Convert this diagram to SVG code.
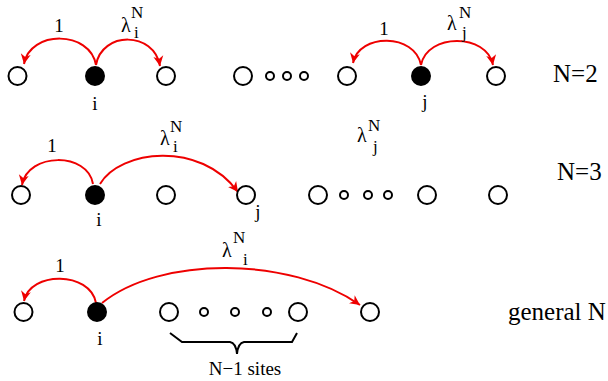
<svg xmlns="http://www.w3.org/2000/svg" width="608" height="381" viewBox="0 0 608 381">
<style>
.s{fill:#fff;stroke:#000;stroke-width:2}
.f{fill:#000;stroke:#000;stroke-width:2}
.a{fill:none;stroke:#e00;stroke-width:2}
text{font-family:"Liberation Serif","Times New Roman",serif;fill:#000}
.l{font-size:19px}
.g{font-size:20px}
.sc{font-size:17px}
.big{font-size:25px}
</style>
<defs>
<marker id="ah" markerUnits="userSpaceOnUse" markerWidth="12" markerHeight="12" refX="10" refY="5" orient="auto" viewBox="0 0 12 10">
<path d="M0,0 L10,5 L0,10 L3,5 z" fill="#e00"/>
</marker>
</defs>
<g id="connectors">
<path class="a" marker-end="url(#ah)" d="M96,65 C90,30 30,30 24,64"/>
<path class="a" marker-end="url(#ah)" d="M96,65 C102,31 154,31 160,66"/>
<path class="a" marker-end="url(#ah)" d="M421,65 C415,33 359,33 353,63"/>
<path class="a" marker-end="url(#ah)" d="M421,65 C427,33 487,33 493,65"/>
<path class="a" marker-end="url(#ah)" d="M93,184 C88,152 28,152 22,185"/>
<path class="a" marker-end="url(#ah)" d="M100,184 C120,150 200,140 238,192"/>
<path class="a" marker-end="url(#ah)" d="M96,303 C90,271 30,271 24,301"/>
<path class="a" marker-end="url(#ah)" d="M102,303 C160,256 290,256 360,305"/>
<path fill="none" stroke="#000" stroke-width="2" d="M170,333 L182,342 L230,342 Q236,343 237,354 Q238,343 244,342 L292,342 L297,333"/>
</g>
<g id="row1">
<g id="r1n1"><circle class="s" cx="17.5" cy="76" r="9"/></g>
<g id="r1n2"><circle class="f" cx="95" cy="76" r="9"/><text class="l" x="95" y="110" text-anchor="middle">i</text></g>
<g id="r1n3"><circle class="s" cx="166" cy="76" r="9"/></g>
<g id="r1n4"><circle class="s" cx="243" cy="76" r="9"/></g>
<g id="r1d1"><circle class="s" cx="270" cy="76" r="4"/></g>
<g id="r1d2"><circle class="s" cx="287" cy="76" r="4"/></g>
<g id="r1d3"><circle class="s" cx="304" cy="76" r="4"/></g>
<g id="r1n5"><circle class="s" cx="347" cy="76" r="9"/></g>
<g id="r1n6"><circle class="f" cx="421" cy="76" r="9"/><text class="l" x="425" y="108" text-anchor="middle">j</text></g>
<g id="r1n7"><circle class="s" cx="496" cy="76" r="9"/></g>
<text class="l" x="59" y="32" text-anchor="middle">1</text>
<text class="g" x="121" y="32">λ</text><text class="sc" x="131" y="18">N</text><text class="sc" x="134" y="38">i</text>
<text class="l" x="384" y="35" text-anchor="middle">1</text>
<text class="g" x="447" y="30">λ</text><text class="sc" x="459" y="18">N</text><text class="sc" x="462" y="38">j</text>
<text class="big" x="553" y="82">N=2</text>
</g>
<g id="row2">
<g id="r2n1"><circle class="s" cx="21" cy="195" r="9"/></g>
<g id="r2n2"><circle class="f" cx="95" cy="195" r="9"/><text class="l" x="99" y="226" text-anchor="middle">i</text></g>
<g id="r2n3"><circle class="s" cx="166" cy="195" r="9"/></g>
<g id="r2n4"><circle class="s" cx="246" cy="195" r="9"/><text class="l" x="258" y="218" text-anchor="middle">j</text></g>
<g id="r2n5"><circle class="s" cx="318" cy="195" r="9"/></g>
<g id="r2d1"><circle class="s" cx="344" cy="195" r="4"/></g>
<g id="r2d2"><circle class="s" cx="368" cy="195" r="4"/></g>
<g id="r2d3"><circle class="s" cx="388" cy="195" r="4"/></g>
<g id="r2n6"><circle class="s" cx="427" cy="195" r="9"/></g>
<g id="r2n7"><circle class="s" cx="498" cy="195" r="9"/></g>
<text class="l" x="52" y="152" text-anchor="middle">1</text>
<text class="g" x="160" y="145">λ</text><text class="sc" x="170" y="132">N</text><text class="sc" x="173" y="152">i</text>
<text class="g" x="357" y="142">λ</text><text class="sc" x="368" y="131">N</text><text class="sc" x="373" y="152">j</text>
<text class="big" x="557" y="180">N=3</text>
</g>
<g id="row3">
<g id="r3n1"><circle class="s" cx="23.5" cy="312" r="9"/></g>
<g id="r3n2"><circle class="f" cx="97" cy="312" r="9"/><text class="l" x="100" y="345" text-anchor="middle">i</text></g>
<g id="r3n3"><circle class="s" cx="169" cy="312" r="9"/></g>
<g id="r3d1"><circle class="s" cx="204" cy="312" r="4"/></g>
<g id="r3d2"><circle class="s" cx="235" cy="312" r="4"/></g>
<g id="r3d3"><circle class="s" cx="267" cy="312" r="4"/></g>
<g id="r3n4"><circle class="s" cx="298" cy="312" r="9"/></g>
<g id="r3n5"><circle class="s" cx="370" cy="312" r="9"/></g>
<text class="l" x="60" y="272" text-anchor="middle">1</text>
<text class="g" x="222" y="257">λ</text><text class="sc" x="233" y="243">N</text><text class="sc" x="243" y="265">i</text>
<text class="l" x="245" y="375" text-anchor="middle" font-size="21">N−1 sites</text>
<text class="big" x="508" y="320">general N</text>
</g>
</svg>
